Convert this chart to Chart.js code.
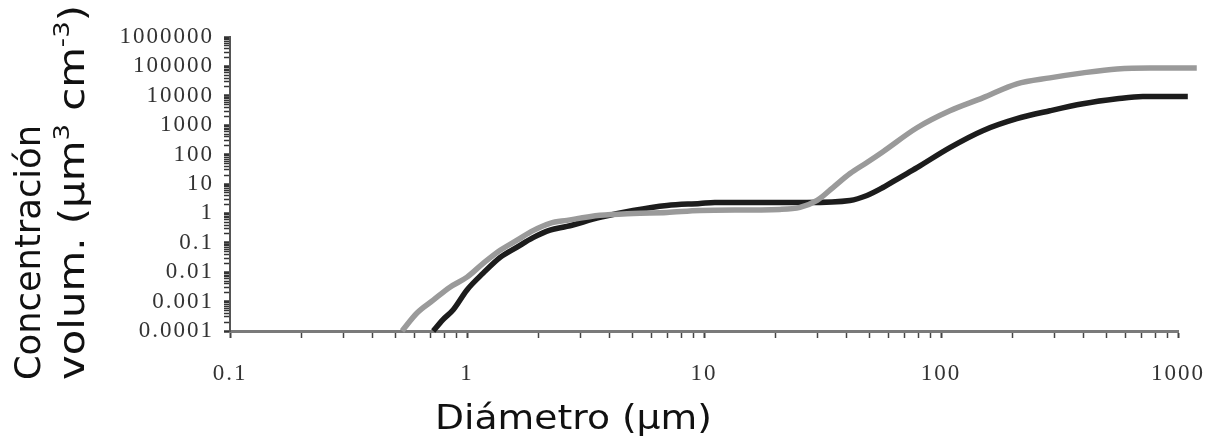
<!DOCTYPE html>
<html>
<head>
<meta charset="utf-8">
<script src="https://cdn.jsdelivr.net/npm/chart.js@4.4.1/dist/chart.umd.min.js"></script>
<style>
  html, body { margin: 0; padding: 0; background: #fff; }
  #wrap { width: 1208px; height: 445px; }
</style>
</head>
<body>
<div id="wrap"><canvas id="sizeChart"></canvas></div>
<script>
// diameters (µm) and volume concentrations
const blackD = [0.72, 0.79, 0.873, 1.0, 1.17, 1.38, 1.62, 1.9, 2.24, 2.64, 3.64, 5.02, 6.98, 9.62, 11.1, 27.2, 41.3, 48.7, 56.9, 67.1, 79.2, 109, 150, 209, 288, 397, 553, 711, 1100];
const blackV = [0.0001, 0.00024, 0.00052, 0.0025, 0.0093, 0.032, 0.07, 0.15, 0.27, 0.36, 0.73, 1.26, 1.87, 2.18, 2.36, 2.36, 2.76, 4.07, 7.6, 16.6, 36, 173, 650, 1660, 3100, 5360, 7900, 9500, 9500];

const greyD = [0.532, 0.615, 0.718, 0.847, 1.0, 1.17, 1.38, 1.62, 1.9, 2.24, 2.64, 3.64, 5.02, 6.98, 9.62, 20.9, 25.4, 30.0, 35.0, 41.3, 48.7, 56.9, 79.2, 109, 150, 209, 288, 397, 553, 762, 1200];
const greyV = [0.0001, 0.00041, 0.0011, 0.0031, 0.0068, 0.02, 0.056, 0.12, 0.26, 0.46, 0.58, 0.86, 1.0, 1.08, 1.26, 1.37, 1.6, 2.76, 7.6, 22.7, 54, 126, 820, 3100, 8500, 25500, 40700, 60200, 82200, 89000, 89000];

const xTickLabels = ['0.1', '1', '10', '100', '1000'];
const yTickLabels = ['0.0001', '0.001', '0.01', '0.1', '1', '10', '100', '1000', '10000', '100000', '1000000'];

const xTitle = 'Diámetro (µm)';
const yTitle1 = 'Concentración';
const yTitle2 = [
  { t: 'volum. (µm' },
  { t: '3', sup: true },
  { t: ' cm' },
  { t: '-3', sup: true },
  { t: ')' }
];

const pts = (xs, ys) => xs.map((x, i) => ({ x: x, y: ys[i] }));

// decade ticks with minor ticks 2..9 in between
function logTicks(labels) {
  const out = [];
  labels.forEach((lab, i) => {
    const v = parseFloat(lab);
    out.push({ value: v, major: true, text: lab });
    if (i < labels.length - 1) {
      for (let m = 2; m <= 9; m++) out.push({ value: v * m, major: false, text: '' });
    }
  });
  return out;
}

const tickFont = { family: '"Liberation Serif", "Times New Roman", serif', size: 23 };

function drawParts(ctx, parts, size, target) {
  let w = 0;
  parts.forEach(p => {
    ctx.font = (p.sup ? size * 0.62 : size) + 'px "DejaVu Sans"';
    p.w = ctx.measureText(p.t).width;
    w += p.w;
  });
  ctx.scale(target / w, 1);
  let x = 0;
  parts.forEach(p => {
    ctx.font = (p.sup ? size * 0.62 : size) + 'px "DejaVu Sans"';
    ctx.fillText(p.t, x, p.sup ? -size * 0.42 : 0);
    x += p.w;
  });
}

// wide-looking serif digits as in the scan
const spacing = {
  id: 'spacing',
  beforeLayout(chart) { chart.ctx.letterSpacing = '2px'; },
  beforeDraw(chart) { chart.ctx.letterSpacing = '2px'; }
};

const axisTitles = {
  id: 'axisTitles',
  afterDraw(chart) {
    const ctx = chart.ctx;
    ctx.save();
    ctx.letterSpacing = '0px';
    ctx.fillStyle = '#111';
    ctx.textBaseline = 'alphabetic';
    ctx.textAlign = 'left';

    ctx.save();
    ctx.translate(435, 429);
    drawParts(ctx, [{ t: xTitle }], 33, 277);
    ctx.restore();

    ctx.save();
    ctx.translate(40, 380);
    ctx.rotate(-Math.PI / 2);
    drawParts(ctx, [{ t: yTitle1 }], 35, 255);
    ctx.restore();

    ctx.save();
    ctx.translate(84, 380);
    ctx.rotate(-Math.PI / 2);
    drawParts(ctx, yTitle2, 35, 375);
    ctx.restore();

    ctx.restore();
  }
};

new Chart(document.getElementById('sizeChart'), {
  type: 'scatter',
  data: {
    datasets: [
      {
        data: pts(greyD, greyV),
        showLine: true,
        borderColor: '#9a9a9a',
        borderWidth: 5.5,
        pointRadius: 0,
        cubicInterpolationMode: 'monotone',
        clip: false
      },
      {
        data: pts(blackD, blackV),
        showLine: true,
        borderColor: '#1c1c1c',
        borderWidth: 5.5,
        pointRadius: 0,
        cubicInterpolationMode: 'monotone',
        clip: false
      }
    ]
  },
  options: {
    responsive: true,
    maintainAspectRatio: false,
    animation: false,
    layout: { padding: { top: 37, right: 30, left: 0, bottom: 0 } },
    plugins: {
      legend: { display: false },
      tooltip: { enabled: false }
    },
    scales: {
      x: {
        type: 'logarithmic',
        min: 0.1,
        max: 1000,
        afterBuildTicks: s => { s.ticks = logTicks(xTickLabels); },
        afterFit: s => { s.height = 114; s.paddingRight = 20; s.paddingLeft = 0; },
        grid: {
          drawOnChartArea: false,
          drawTicks: true,
          tickLength: 7,
          tickColor: '#444',
          tickWidth: c => (c.tick && c.tick.major ? 2 : 1.5)
        },
        border: { display: true, color: '#7a7a7a', width: 3 },
        ticks: {
          autoSkip: false,
          maxRotation: 0,
          padding: 22,
          color: '#333',
          font: tickFont,
          callback: (v, i, ticks) => ticks[i].text
        }
      },
      y: {
        type: 'logarithmic',
        min: 0.0001,
        max: 1000000,
        afterBuildTicks: s => { s.ticks = logTicks(yTickLabels); },
        afterFit: s => { s.width = 230; },
        grid: {
          drawOnChartArea: false,
          drawTicks: true,
          tickLength: 6,
          tickColor: '#333',
          tickWidth: c => (c.tick && c.tick.major ? 2.5 : 1.5)
        },
        border: { display: true, color: '#555', width: 2 },
        ticks: {
          autoSkip: false,
          padding: 10,
          color: '#333',
          font: tickFont,
          callback: (v, i, ticks) => ticks[i].text
        }
      }
    }
  },
  plugins: [spacing, axisTitles]
});
</script>
</body>
</html>
